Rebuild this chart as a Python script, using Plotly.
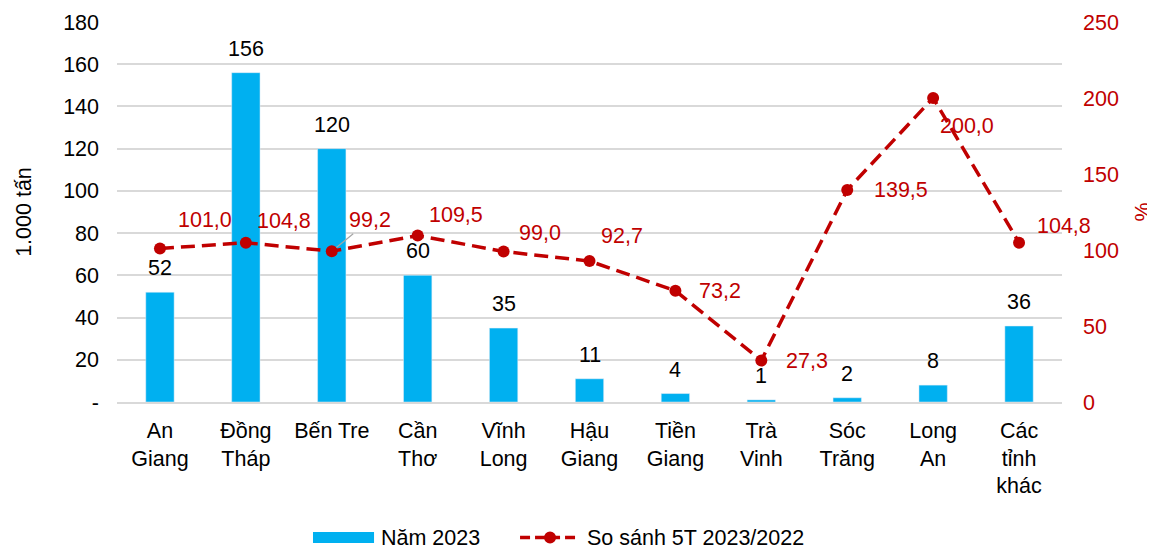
import plotly.graph_objects as go

categories = ["An<br>Giang", "Đồng<br>Tháp", "Bến Tre", "Cần<br>Thơ", "Vĩnh<br>Long", "Hậu<br>Giang",
              "Tiền<br>Giang", "Trà<br>Vinh", "Sóc<br>Trăng", "Long<br>An", "Các<br>tỉnh<br>khác"]
volume_2023 = [52, 156, 120, 60, 35, 11, 4, 1, 2, 8, 36]
ratio_pct = [101.0, 104.8, 99.2, 109.5, 99.0, 92.7, 73.2, 27.3, 139.5, 200.0, 104.8]
ratio_labels = ["101,0", "104,8", "99,2", "109,5", "99,0", "92,7", "73,2", "27,3", "139,5", "200,0", "104,8"]
left_ticks = [0, 20, 40, 60, 80, 100, 120, 140, 160, 180]
left_ticktext = ["-", "20", "40", "60", "80", "100", "120", "140", "160", "180"]
right_ticks = [0, 50, 100, 150, 200, 250]
series_names = ["Năm 2023", "So sánh 5T 2023/2022"]

# label offsets (pixels) for line labels
label_offsets = [(45, 28), (38, 22), (38, 31), (38, 21), (36, 19), (32, 25), (45, 0), (46, 0), (54, 0), (34, -28), (45, 17)]

RED = "#C00000"
BLUE = "#00B0F0"
CLEAR = "rgba(0,0,0,0)"
FONT = "Liberation Sans, Arial, sans-serif"
FS = 21.5

fig = go.Figure()
fig.add_trace(go.Bar(
    x=categories, y=volume_2023, name=series_names[0], marker_color=BLUE, width=0.33,
    showlegend=False,
))
fig.add_trace(go.Scatter(
    x=categories, y=ratio_pct, name=series_names[1], yaxis="y2", mode="lines+markers",
    line=dict(color=RED, width=3.5, dash="14px,7px"), marker=dict(color=RED, size=12),
    cliponaxis=False, showlegend=False,
))
# legend text entries (swatches drawn as shapes below, to match the wide reference swatches)
fig.add_trace(go.Scatter(x=[None], y=[None], mode="lines", name=series_names[0],
                         line=dict(color=CLEAR, width=1), legend="legend"))
fig.add_trace(go.Scatter(x=[None], y=[None], mode="lines", name=series_names[1],
                         line=dict(color=CLEAR, width=1), legend="legend2"))

# bar legend swatch
fig.add_shape(type="rect", xref="paper", yref="paper", x0=0.2074, x1=0.2720, y0=-0.371, y1=-0.342,
              fillcolor=BLUE, line=dict(width=0))
# line legend swatch
fig.add_shape(type="line", xref="paper", yref="paper", x0=0.4265, x1=0.4899, y0=-0.3565, y1=-0.3565,
              line=dict(color=RED, width=3.5, dash="10px,5px"))
fig.add_shape(type="circle", xref="paper", yref="paper", x0=0.4519, x1=0.4646, y0=-0.3723, y1=-0.3407,
              fillcolor=RED, line=dict(width=0))

# bar value labels
for c, v in zip(categories, volume_2023):
    fig.add_annotation(x=c, y=v, yref="y", text=str(v), showarrow=False, yanchor="bottom", yshift=10,
                       font=dict(color="#000000", size=FS, family=FONT))

for i, (c, v, lab) in enumerate(zip(categories, ratio_pct, ratio_labels)):
    dx, dy = label_offsets[i]
    if i == 2:
        fig.add_annotation(x=c, y=v, yref="y2", text=lab, showarrow=True, ax=dx, ay=-dy,
                           arrowhead=0, arrowcolor="#A6A6A6", arrowwidth=1.2, standoff=6,
                           font=dict(color=RED, size=FS, family=FONT))
    else:
        fig.add_annotation(x=c, y=v, yref="y2", text=lab, showarrow=False, xshift=dx, yshift=dy,
                           font=dict(color=RED, size=FS, family=FONT))

fig.update_layout(
    width=1147, height=538,
    margin=dict(l=109, r=93, t=14, b=144, autoexpand=False),
    plot_bgcolor="white", paper_bgcolor="white",
    font=dict(family=FONT, size=FS, color="#000000"),
    showlegend=True,
    legend=dict(orientation="h", x=0.2370, xanchor="left", y=-0.353, yanchor="middle",
                bgcolor=CLEAR, font=dict(size=FS, color="#000000")),
    legend2=dict(orientation="h", x=0.4550, xanchor="left", y=-0.353, yanchor="middle",
                 bgcolor=CLEAR, font=dict(size=FS, color="#000000")),
    xaxis=dict(range=[-0.5, 10.5], showline=True, linecolor="#D9D9D9", linewidth=1.5, ticks="",
               automargin=False, tickfont=dict(size=FS, color="#000000"), tickangle=0,
               ticklabelstandoff=8),
    yaxis=dict(range=[0, 180], tickvals=left_ticks, ticktext=left_ticktext, automargin=False,
               showgrid=True, gridcolor="#D9D9D9", gridwidth=1.5, zeroline=False,
               tickfont=dict(size=FS, color="#000000"), ticklabelstandoff=17,
               title=dict(text="1.000 tấn", font=dict(size=FS, color="#000000"), standoff=25)),
    yaxis2=dict(range=[0, 250], tickvals=right_ticks, overlaying="y", side="right", automargin=False,
                showgrid=False, zeroline=False, tickfont=dict(size=FS, color=RED), ticklabelstandoff=20,
                title=dict(text="%", font=dict(size=FS, color=RED), standoff=20)),
)

fig.write_html("out.html")
